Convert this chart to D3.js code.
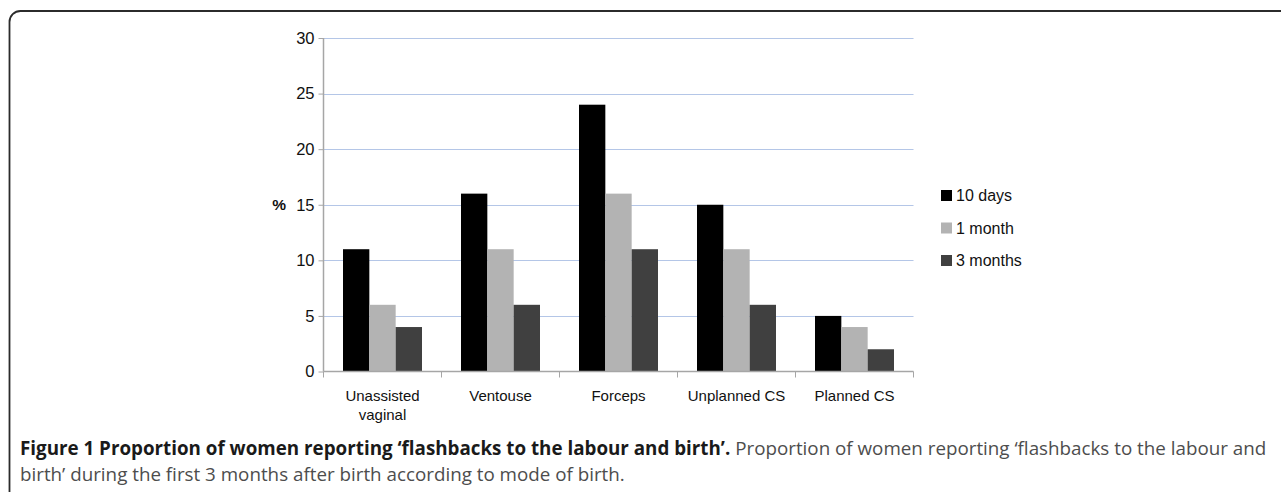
<!DOCTYPE html>
<html>
<head>
<meta charset="utf-8">
<script src="https://cdn.jsdelivr.net/npm/d3@7"></script>
<style>
  body { margin: 0; background: #fff; }
  svg { display: block; }
</style>
</head>
<body>
<script>
// data
var categories = ['Unassisted vaginal', 'Ventouse', 'Forceps', 'Unplanned CS', 'Planned CS'];
var seriesNames = ['10 days', '1 month', '3 months'];
var tenDays = [11, 16, 24, 15, 5];
var oneMonth = [6, 11, 16, 11, 4];
var threeMonths = [4, 6, 11, 6, 2];
var yTicks = [0, 5, 10, 15, 20, 25, 30];
var seriesColors = ['#000000', '#b3b3b3', '#404040'];

var series = [tenDays, oneMonth, threeMonths];

var W = 1281, H = 492;
var svg = d3.select('body').append('svg').attr('width', W).attr('height', H);

// frame of the figure box (runs off right and bottom edge)
svg.append('rect')
    .attr('x', 9.5).attr('y', 11)
    .attr('width', 1320).attr('height', 520)
    .attr('rx', 11).attr('ry', 11)
    .attr('fill', 'none')
    .attr('stroke', '#2b2b2b')
    .attr('stroke-width', 1.8);

var plot = { left: 323.5, right: 913.5, top: 38, bottom: 371.5 };

var x = d3.scaleBand()
    .domain(categories)
    .range([plot.left, plot.right])
    .paddingInner(0).paddingOuter(0);
var barPad = 19.5;
var xInner = d3.scaleBand()
    .domain(d3.range(seriesNames.length))
    .range([0, x.bandwidth() - 2 * barPad]);
var y = d3.scaleLinear().domain([0, 30]).range([plot.bottom, plot.top]);

// gridlines
svg.append('g').selectAll('line')
    .data(yTicks.filter(function (d) { return d > 0; }))
    .enter().append('line')
    .attr('x1', plot.left).attr('x2', plot.right)
    .attr('y1', function (d) { return Math.round(y(d)) + 0.5; })
    .attr('y2', function (d) { return Math.round(y(d)) + 0.5; })
    .attr('stroke', '#b4c6e7')
    .attr('stroke-width', 1.2);

// bars
var gBars = svg.append('g');
series.forEach(function (vals, s) {
    gBars.selectAll('rect.s' + s)
        .data(vals)
        .enter().append('rect')
        .attr('class', 's' + s)
        .attr('x', function (d, i) { return x(categories[i]) + barPad + xInner(s); })
        .attr('y', function (d) { return y(d); })
        .attr('width', xInner.bandwidth())
        .attr('height', function (d) { return y(0) - y(d); })
        .attr('fill', seriesColors[s]);
});

// y axis
var yAxis = d3.axisLeft(y).tickValues(yTicks).tickSize(5).tickPadding(4);
var gy = svg.append('g')
    .attr('transform', 'translate(' + plot.left + ',0)')
    .call(yAxis);
gy.select('.domain').attr('stroke', '#a6a6a6').attr('stroke-width', 1.5)
    .attr('d', 'M0,' + plot.top + 'V' + plot.bottom);
gy.selectAll('.tick line').attr('stroke', '#a6a6a6');
gy.selectAll('.tick text')
    .attr('font-family', 'Liberation Sans, Arial, sans-serif')
    .attr('font-size', 16.5)
    .attr('fill', '#111');

// x axis
var gx = svg.append('g').attr('transform', 'translate(0,' + plot.bottom + ')');
gx.append('line')
    .attr('x1', plot.left).attr('x2', plot.right)
    .attr('stroke', '#a6a6a6').attr('stroke-width', 1.5);
gx.selectAll('line.tk')
    .data(d3.range(categories.length + 1))
    .enter().append('line')
    .attr('class', 'tk')
    .attr('x1', function (d) { return plot.left + d * x.bandwidth(); })
    .attr('x2', function (d) { return plot.left + d * x.bandwidth(); })
    .attr('y1', 0).attr('y2', 6)
    .attr('stroke', '#a6a6a6');

var catLabels = svg.append('g')
    .attr('font-family', 'Liberation Sans, Arial, sans-serif')
    .attr('font-size', 15)
    .attr('fill', '#111')
    .attr('text-anchor', 'middle');
categories.forEach(function (c) {
    var lines = c === 'Unassisted vaginal' ? ['Unassisted', 'vaginal'] : [c];
    var t = catLabels.append('text')
        .attr('x', x(c) + x.bandwidth() / 2)
        .attr('y', 401);
    lines.forEach(function (l, i) {
        t.append('tspan')
            .attr('x', x(c) + x.bandwidth() / 2)
            .attr('dy', i === 0 ? 0 : 19)
            .text(l);
    });
});

// axis title
svg.append('text')
    .attr('x', 286).attr('y', y(15) + 5)
    .attr('text-anchor', 'end')
    .attr('font-family', 'Liberation Sans, Arial, sans-serif')
    .attr('font-size', 15.5)
    .attr('font-weight', 'bold')
    .attr('fill', '#111')
    .text('%');

// legend
var legend = svg.append('g')
    .attr('font-family', 'Liberation Sans, Arial, sans-serif')
    .attr('font-size', 16)
    .attr('fill', '#111');
var legRow = d3.scalePoint().domain(seriesNames).range([195, 260]);
seriesNames.forEach(function (n, i) {
    legend.append('rect')
        .attr('x', 941).attr('y', legRow(n) - 5)
        .attr('width', 11).attr('height', 11)
        .attr('fill', seriesColors[i]);
    legend.append('text')
        .attr('x', 956).attr('y', legRow(n) + 6)
        .text(n);
});

// caption
var cap = svg.append('g')
    .attr('font-family', 'Open Sans, Noto Sans, sans-serif')
    .attr('font-size', 18.8);
var line1 = cap.append('text').attr('x', 20).attr('y', 455);
line1.append('tspan')
    .attr('font-weight', 'bold')
    .attr('fill', '#1a1a1a')
    .text('Figure 1 Proportion of women reporting \u2018flashbacks to the labour and birth\u2019.');
line1.append('tspan')
    .attr('fill', '#4d4d4d')
    .text(' Proportion of women reporting \u2018flashbacks to the labour and');
cap.append('text')
    .attr('x', 20).attr('y', 481)
    .attr('fill', '#4d4d4d')
    .text('birth\u2019 during the first 3 months after birth according to mode of birth.');
</script>
</body>
</html>
